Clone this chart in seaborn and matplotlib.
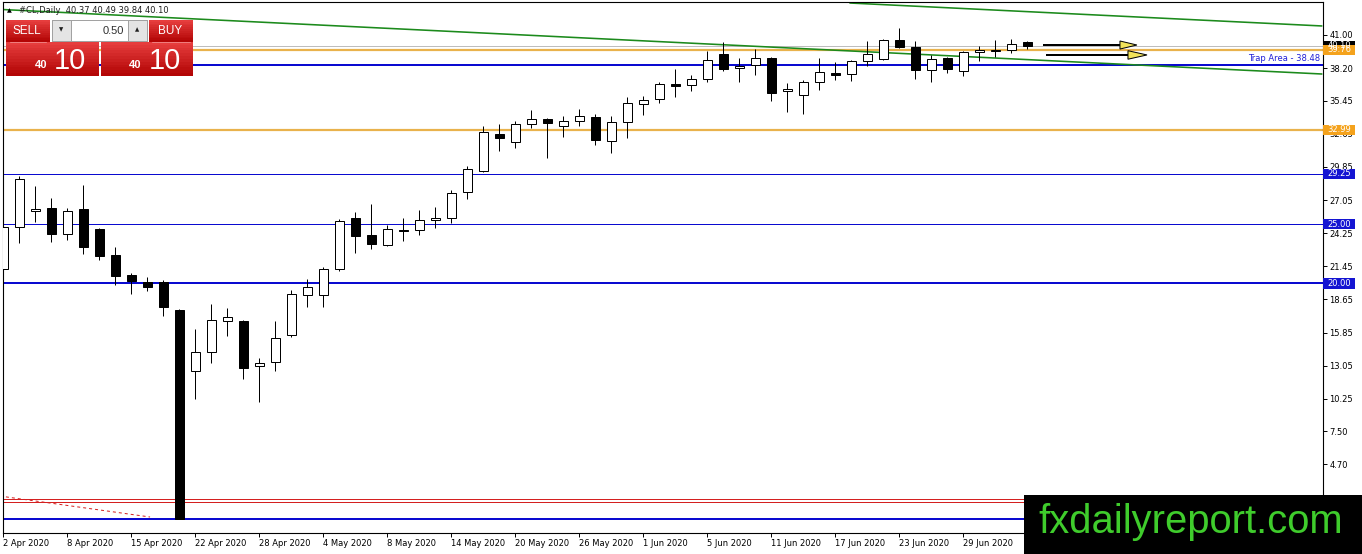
import numpy as np
import pandas as pd
import seaborn as sns
import matplotlib.pyplot as plt
import matplotlib.transforms as mtransforms
from matplotlib.patches import Rectangle, Polygon

# daily OHLC of #CL, 2 Apr - 2 Jul 2020
opens = [21.22, 24.77, 26.12, 26.38, 24.18, 26.29, 24.60, 22.40, 20.71, 20.12,
         20.12, 17.75, 12.60, 14.20, 16.82, 16.82, 13.02, 13.36, 15.64, 19.02,
         19.02, 21.22, 25.53, 24.09, 23.25, 24.52, 24.52, 25.36, 25.53, 27.73,
         29.50, 32.63, 31.96, 33.48, 33.90, 33.31, 33.73, 34.07, 32.04, 33.65,
         35.17, 35.59, 36.86, 36.77, 37.28, 39.39, 38.21, 38.46, 39.06, 36.27,
         35.93, 37.03, 37.79, 37.70, 38.80, 38.97, 40.58, 39.99, 38.04, 39.06,
         37.96, 39.56, 39.65, 39.73, 40.37]
highs = [27.31, 29.08, 28.24, 27.22, 26.38, 28.32, 24.65, 23.08, 20.88, 20.54,
         20.29, 17.85, 16.15, 18.26, 17.92, 16.91, 13.70, 16.82, 19.44, 20.37,
         21.39, 25.45, 26.04, 26.71, 24.94, 25.53, 26.21, 26.46, 27.90, 29.93,
         33.31, 33.48, 33.73, 34.66, 33.98, 34.15, 34.74, 34.32, 34.15, 35.76,
         35.84, 37.03, 38.13, 37.62, 39.65, 40.41, 39.06, 39.82, 39.10, 36.94,
         37.20, 39.06, 38.72, 38.89, 40.49, 40.66, 41.59, 40.49, 39.31, 39.14,
         39.65, 40.07, 40.58, 40.66, 40.49]
lows = [20.88, 23.42, 25.19, 23.50, 23.67, 22.49, 21.98, 19.87, 19.11, 19.36,
        17.25, 0.10, 10.23, 13.27, 15.56, 11.92, 9.98, 12.60, 15.47, 18.01,
        18.01, 21.05, 22.57, 22.91, 23.16, 23.59, 24.09, 24.69, 25.11, 27.14,
        29.42, 31.19, 31.45, 33.14, 30.60, 32.38, 33.31, 31.70, 31.03, 32.29,
        34.24, 35.25, 35.76, 36.27, 37.03, 37.96, 37.03, 37.62, 35.42, 34.49,
        34.32, 36.35, 37.20, 37.11, 38.38, 38.89, 39.90, 37.28, 37.03, 37.79,
        37.53, 38.80, 39.14, 39.48, 39.84]
closes = [24.77, 28.83, 26.29, 24.18, 26.12, 23.08, 22.32, 20.63, 20.21, 19.70,
          18.01, 0.10, 14.20, 16.91, 17.16, 12.85, 13.27, 15.39, 19.11, 19.70,
          21.22, 25.28, 24.01, 23.33, 24.60, 24.43, 25.36, 25.53, 27.64, 29.67,
          32.80, 32.29, 33.48, 33.90, 33.56, 33.73, 34.15, 32.12, 33.65, 35.25,
          35.51, 36.86, 36.69, 37.28, 38.89, 38.13, 38.38, 39.06, 36.10, 36.44,
          37.03, 37.87, 37.62, 38.80, 39.39, 40.58, 39.99, 38.04, 38.97, 38.13,
          39.56, 39.73, 39.70, 40.24, 40.10]

date_labels = ['2 Apr 2020', '8 Apr 2020', '15 Apr 2020', '22 Apr 2020', '28 Apr 2020',
               '4 May 2020', '8 May 2020', '14 May 2020', '20 May 2020', '26 May 2020',
               '1 Jun 2020', '5 Jun 2020', '11 Jun 2020', '17 Jun 2020', '23 Jun 2020',
               '29 Jun 2020']
label_step = 4

price_ticks = [41.00, 38.20, 35.45, 32.65, 29.85, 27.05, 24.25, 21.45,
               18.65, 15.85, 13.05, 10.25, 7.50, 4.70]

# horizontal levels
blue_levels = [38.48, 29.25, 25.00, 20.00, 0.10]
orange_levels = [39.76, 32.99]
red_levels = [1.78, 1.55]
bid_price = 40.10
labelled_levels = [(40.10, '#000000'), (39.76, '#f4a21c'), (32.99, '#f4a21c'),
                   (29.25, '#1414d2'), (25.00, '#1414d2'), (20.00, '#1414d2'),
                   (1.70, '#c81414')]
trap_level = 38.48

# trend lines (bar index, price)
lower_trend_x = [-0.22, 82.4]
lower_trend_y = [43.16, 37.70]
upper_trend_x = [52.9, 82.4]
upper_trend_y = [43.70, 41.76]
red_trend_x = [-0.22, 9.16]
red_trend_y = [2.03, 0.26]

# projected arrows
arrow_start = [64.97, 65.16]
arrow_head = [69.78, 70.28]
arrow_tip = [70.84, 71.47]
arrow_price = [40.15, 39.31]
arrow_half = [0.34, 0.36]

header = '#CL,Daily  40.37 40.49 39.84 40.10'
watermark = 'fxdailyreport.com'

W, H = 1362, 554
sns.set_style("white")
plt.rcParams['font.family'] = ['DejaVu Sans']

fig = plt.figure(figsize=(W / 100, H / 100), dpi=100)
left, right, top, bottom = 2.5, 1323, 2.3, 532.5
ax = fig.add_axes([left / W, 1 - bottom / H, (right - left) / W, (bottom - top) / H])

df = pd.DataFrame({'o': opens, 'h': highs, 'l': lows, 'c': closes})
df['x'] = np.arange(len(df))
df['up'] = df['c'] >= df['o']
df['base'] = df[['o', 'c']].min(axis=1)
df['size'] = (df['c'] - df['o']).abs()

px = 0.72  # one pixel in points

# level lines
for lv in blue_levels:
    lw = 1 if lv in (29.25, 25.00) else 2
    ax.axhline(lv, color='#0a0ad0', lw=lw * px, zorder=1)
for lv in orange_levels:
    ax.axhline(lv, color='#e9b24c', lw=2.2 * px, zorder=1)
for lv in red_levels:
    ax.axhline(lv, color='#d42020', lw=1 * px, zorder=1)
ax.axhline(bid_price, color='#bdbdbd', lw=1 * px, zorder=1)

# trend lines
sns.lineplot(x=lower_trend_x, y=lower_trend_y, ax=ax, color='#1c8a1c', lw=1.6 * px, zorder=2)
sns.lineplot(x=upper_trend_x, y=upper_trend_y, ax=ax, color='#1c8a1c', lw=1.6 * px, zorder=2)
sns.lineplot(x=red_trend_x, y=red_trend_y, ax=ax, color='#d42020', lw=1 * px,
             linestyle=(0, (3, 3)), zorder=2)

# candles
ax.vlines(df['x'], df['l'], df['h'], color='black', lw=1 * px, zorder=3)
ax.bar(df['x'], df['size'], bottom=df['base'], width=0.62,
       color=np.where(df['up'], 'white', 'black'), edgecolor='black',
       linewidth=1 * px, zorder=4)

# arrows
for x0, x1, xt, y, hh in zip(arrow_start, arrow_head, arrow_tip, arrow_price, arrow_half):
    ax.plot([x0, x1], [y, y], color='black', lw=2 * px, zorder=5, solid_capstyle='butt')
    ax.add_patch(Polygon([[x1, y + hh], [xt, y], [x1, y - hh]], closed=True,
                         facecolor='#f2e35a', edgecolor='black', lw=1 * px, zorder=5))

ax.text(82.3, trap_level + 0.12, 'Trap Area - 38.48', color='#2020d8', fontsize=6,
        ha='right', va='bottom', zorder=6)

ax.set_xlim(-0.0625, 82.47)
ax.set_ylim(-1.05, 43.76)

ax.yaxis.tick_right()
ax.set_yticks(price_ticks)
ax.set_yticklabels(['%.2f' % v for v in price_ticks])
ax.tick_params(axis='y', direction='out', length=3, width=0.7, pad=1.5,
               labelsize=6, colors='black', right=True, left=False)
tick_pos = list(range(0, label_step * len(date_labels), label_step))
ax.set_xticks(tick_pos)
ax.set_xticklabels(date_labels, ha='left')
ax.tick_params(axis='x', direction='out', length=3, width=0.7, pad=1.5,
               labelsize=6, colors='black', bottom=True)
for s in ax.spines.values():
    s.set_color('black')
    s.set_linewidth(0.8)
ax.grid(False)

# price labels on the right axis
trans = mtransforms.blended_transform_factory(ax.transAxes, ax.transData)
box_w = 32 / (right - left)
for lv, col in labelled_levels:
    ax.add_patch(Rectangle((1.0, lv - 0.43), box_w, 0.86, transform=trans,
                           facecolor=col, edgecolor='none', clip_on=False, zorder=7))
    ax.text(1.0 + box_w / 2, lv, '%.2f' % lv, transform=trans, color='white',
            fontsize=6, ha='center', va='center', clip_on=False, zorder=8)


def fpx(x, y):
    return x / W, 1 - y / H


def frect(x0, y0, x1, y1, **kw):
    fig.add_artist(Rectangle(fpx(x0, y1), (x1 - x0) / W, (y1 - y0) / H,
                             transform=fig.transFigure, **kw))


# header
fig.text(*fpx(7, 10.5), '\u25b2', fontsize=4.5, color='black', va='center', ha='left')
fig.text(*fpx(19, 10.5), header, fontsize=6, color='#202020', va='center', ha='left')

# one click trading panel
def red_box(x0, y0, x1, y1):
    n = 12
    c0 = np.array([0.90, 0.24, 0.24])
    c1 = np.array([0.70, 0.02, 0.02])
    for k in range(n):
        t = k / (n - 1)
        frect(x0, y0 + (y1 - y0) * k / n, x1, y0 + (y1 - y0) * (k + 1) / n,
              facecolor=tuple(c0 * (1 - t) + c1 * t), edgecolor='none', zorder=20)


red_box(6, 20, 50, 42)
red_box(149, 20, 193, 42)
red_box(6, 42, 99, 76)
red_box(101, 42, 193, 76)
fig.add_artist(plt.Line2D([10 / W, 46 / W], [1 - 41.5 / H] * 2, color='#f08080',
                          lw=0.7, transform=fig.transFigure, zorder=21))
fig.add_artist(plt.Line2D([152 / W, 190 / W], [1 - 41.5 / H] * 2, color='#f08080',
                          lw=0.7, transform=fig.transFigure, zorder=21))
frect(52, 20, 147, 41, facecolor='white', edgecolor='#a0a0a0', lw=0.7, zorder=20)
frect(52, 20, 71, 41, facecolor='#e4e4e4', edgecolor='#a0a0a0', lw=0.7, zorder=21)
frect(128, 20, 147, 41, facecolor='#e4e4e4', edgecolor='#a0a0a0', lw=0.7, zorder=21)
fig.text(*fpx(61.5, 30), '\u25bc', fontsize=4, color='#202020', ha='center', va='center', zorder=22)
fig.text(*fpx(137.5, 30), '\u25b2', fontsize=4, color='#202020', ha='center', va='center', zorder=22)
fig.text(*fpx(124, 30.5), '0.50', fontsize=8, color='#303030', ha='right', va='center',
         family=['Liberation Sans'], zorder=22)
fig.text(*fpx(27, 31), 'SELL', fontsize=8.5, color='white', ha='center', va='center',
         family=['Liberation Sans'], zorder=22)
fig.text(*fpx(170, 31), 'BUY', fontsize=8.5, color='white', ha='center', va='center',
         family=['Liberation Sans'], zorder=22)
for cx in (41, 135):
    fig.text(*fpx(cx, 65), '40', fontsize=8, color='white', weight='bold', ha='center',
             va='center', family=['Liberation Sans'], zorder=22)
for cx in (70, 165):
    fig.text(*fpx(cx, 69), '10', fontsize=21, color='white', ha='center', va='baseline',
             family=['Liberation Sans'], zorder=22)

# watermark
frect(1024, 495, 1362, 554, facecolor='black', edgecolor='none', zorder=30)
fig.text(*fpx(1038, 533), watermark, fontsize=28.8, color='#3fcc2c', ha='left',
         va='baseline', family=['Liberation Sans'], zorder=31)

fig.savefig('out.png', dpi=100)
